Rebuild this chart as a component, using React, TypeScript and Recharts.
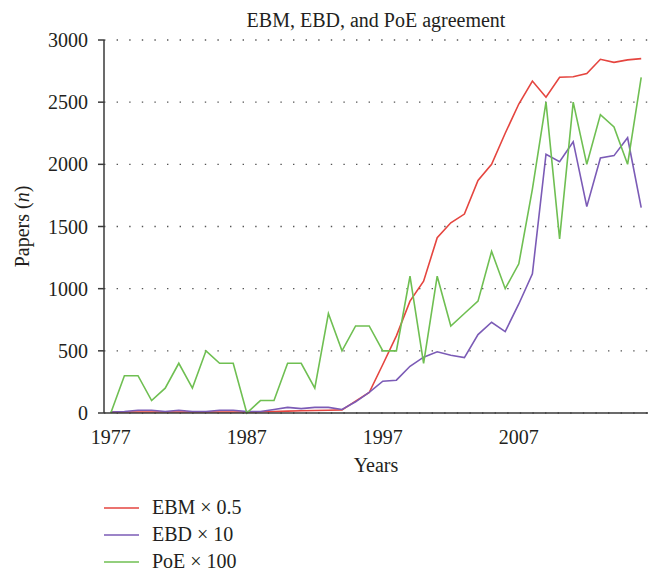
import React from 'react';
import { LineChart, Line, XAxis, YAxis, CartesianGrid } from 'recharts';

const years = [
  1977, 1978, 1979, 1980, 1981, 1982, 1983, 1984, 1985, 1986,
  1987, 1988, 1989, 1990, 1991, 1992, 1993, 1994, 1995, 1996,
  1997, 1998, 1999, 2000, 2001, 2002, 2003, 2004, 2005, 2006,
  2007, 2008, 2009, 2010, 2011, 2012, 2013, 2014, 2015, 2016,
];

// EBM x 0.5
const ebm = [
  8, 8, 8, 8, 8, 8, 8, 8, 8, 8,
  8, 10, 12, 15, 18, 20, 22, 25, 95, 165,
  390, 620, 900, 1060, 1410, 1530, 1600, 1870, 2000, 2250,
  2485, 2670, 2540, 2700, 2705, 2730, 2845, 2820, 2840, 2850,
];

// EBD x 10
const ebd = [
  8, 12, 22, 22, 12, 22, 12, 12, 22, 22,
  12, 12, 28, 45, 35, 45, 45, 28, 90, 165,
  256, 264, 376, 449, 492, 465, 446, 631, 730, 655,
  877, 1120, 2081, 2022, 2182, 1660, 2051, 2070, 2214, 1652,
];

// PoE x 100
const poe = [
  0, 300, 300, 100, 200, 400, 200, 500, 400, 400,
  0, 100, 100, 400, 400, 200, 800, 500, 700, 700,
  500, 500, 1100, 400, 1100, 700, 800, 900, 1300, 1000,
  1200, 1800, 2500, 1400, 2500, 2000, 2400, 2300, 2000, 2700,
];

const yTicks = [0, 500, 1000, 1500, 2000, 2500, 3000];
const yearLabels = [1977, 1987, 1997, 2007];

const series = [
  { key: 'ebm', name: 'EBM × 0.5', color: '#e5453f' },
  { key: 'ebd', name: 'EBD × 10', color: '#7b5bb6' },
  { key: 'poe', name: 'PoE × 100', color: '#6fbf52' },
];

const data = years.map((year, i) => ({ year, ebm: ebm[i], ebd: ebd[i], poe: poe[i] }));
// tick marks sit between the years, like the original
const boundaryTicks = [...years.map((y) => y - 0.5), years[years.length - 1] + 0.5];
const xDomain = [boundaryTicks[0], boundaryTicks[boundaryTicks.length - 1]];

const FONT = '"Liberation Serif", "Times New Roman", serif';
const INK = '#231f20';
const AXIS = '#3a3a3a';
const FS = 20;

const YLabel = (props: any) => {
  const vb = props.viewBox || {};
  const cx = 29;
  const cy = vb.y + vb.height / 2;
  return (
    <text x={cx} y={cy} transform={`rotate(-90, ${cx}, ${cy})`} textAnchor="middle"
      fontFamily={FONT} fontSize={FS} fill={INK}>
      Papers (<tspan fontStyle="italic">n</tspan>)
    </text>
  );
};

export default function App() {
  return (
    <div style={{ position: 'absolute', left: 0, top: 0, width: 656, height: 571, background: '#fff', fontFamily: FONT, color: INK }}>
      <div style={{ position: 'absolute', left: 176, width: 400, top: 8, textAlign: 'center', fontSize: FS, lineHeight: '24px' }}>
        EBM, EBD, and PoE agreement
      </div>

      <LineChart width={656} height={480} data={data} margin={{ top: 40, right: 8, bottom: 0, left: 0 }}>
        <CartesianGrid vertical={false} stroke="#555" strokeWidth={1.4} strokeDasharray="1.4 11.2" />
        <XAxis
          dataKey="year"
          type="number"
          domain={xDomain}
          allowDataOverflow
          ticks={boundaryTicks}
          interval={0}
          tick={false}
          height={8}
          tickSize={7}
          stroke={AXIS}
          strokeWidth={1.5}
        />
        <XAxis
          xAxisId="labels"
          dataKey="year"
          type="number"
          domain={xDomain}
          allowDataOverflow
          ticks={yearLabels}
          interval={0}
          axisLine={false}
          tickLine={false}
          tickSize={0}
          tickMargin={9}
          height={59}
          tick={{ fill: INK, fontSize: FS, fontFamily: FONT }}
          label={{ value: 'Years', position: 'insideTop', offset: 37, fill: INK, fontSize: FS, fontFamily: FONT }}
        />
        <YAxis
          domain={[0, 3000]}
          ticks={yTicks}
          interval={0}
          width={104}
          tickSize={6}
          tickMargin={10}
          stroke={AXIS}
          strokeWidth={1.5}
          tick={{ fill: INK, fontSize: FS, fontFamily: FONT }}
          label={{ content: YLabel }}
        />
        {series.map((s) => (
          <Line
            key={s.key}
            dataKey={s.key}
            name={s.name}
            type="linear"
            stroke={s.color}
            strokeWidth={1.6}
            dot={false}
            activeDot={false}
            isAnimationActive={false}
          />
        ))}
      </LineChart>

      <div style={{ position: 'absolute', left: 104, top: 494 }}>
        {series.map((s) => (
          <div key={s.key} style={{ display: 'flex', alignItems: 'center', height: 27, fontSize: FS }}>
            <svg width={35} height={4} style={{ marginRight: 13, display: 'block' }}>
              <line x1={0} y1={2} x2={35} y2={2} stroke={s.color} strokeWidth={1.6} />
            </svg>
            <span>{s.name}</span>
          </div>
        ))}
      </div>
    </div>
  );
}
